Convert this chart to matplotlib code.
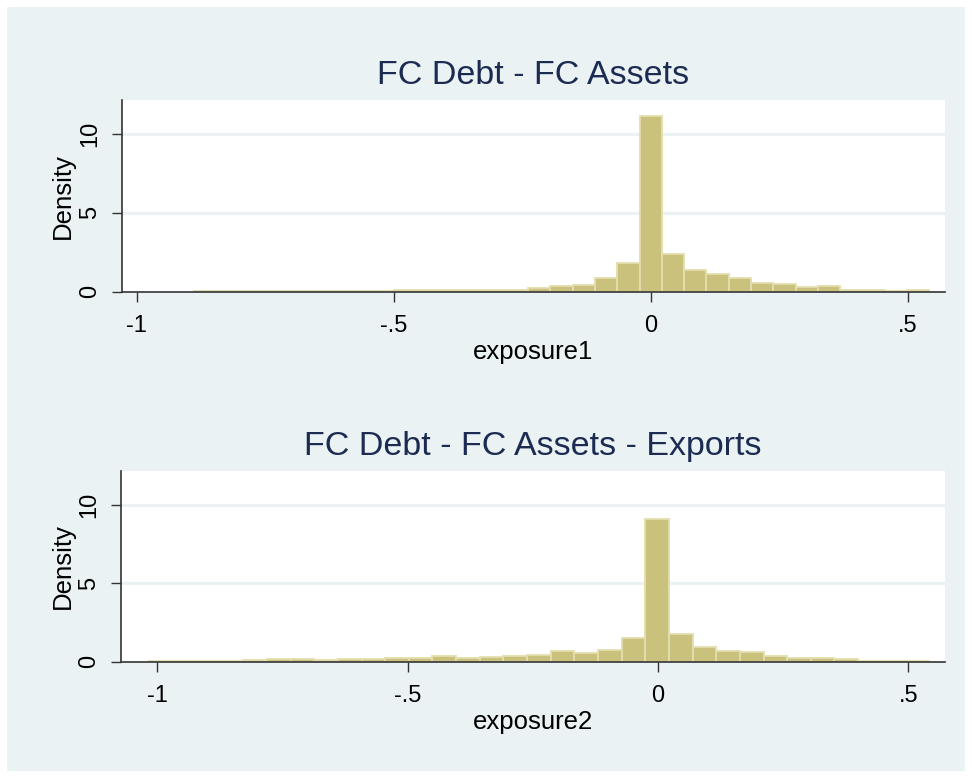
import numpy as np
import matplotlib
matplotlib.use('Agg')
import matplotlib.pyplot as plt
from matplotlib.patches import Rectangle

plt.rcParams['font.family'] = ['Liberation Sans', 'DejaVu Sans']

# histogram 1: exposure1 (33 bins)
bin_start1 = -0.8887
bin_end1 = 0.542
dens1 = [0.05, 0.05, 0.05, 0.05, 0.05, 0.05, 0.06, 0.06, 0.07, 0.08, 0.08,
         0.13, 0.13, 0.08, 0.13, 0.23, 0.34, 0.44, 0.89, 1.84, 11.12,
         2.37, 1.37, 1.12, 0.87, 0.57, 0.47, 0.30, 0.34, 0.13, 0.11, 0.06, 0.11]

# histogram 2: exposure2 (33 bins)
bin_start2 = -1.017
bin_end2 = 0.541
dens2 = [0.06, 0.06, 0.04, 0.04, 0.09, 0.15, 0.19, 0.13, 0.17, 0.17, 0.24,
         0.26, 0.34, 0.23, 0.30, 0.38, 0.45, 0.68, 0.58, 0.77, 1.48, 9.09,
         1.74, 0.91, 0.68, 0.60, 0.34, 0.26, 0.21, 0.17, 0.06, 0.03, 0.03]

titles = ['FC Debt - FC Assets', 'FC Debt - FC Assets - Exports']
xlabels = ['exposure1', 'exposure2']
xticks = [-1, -0.5, 0, 0.5]
xticklabels = ['-1', '-.5', '0', '.5']
yticks = [0, 5, 10]

W, H = 972, 778
fig = plt.figure(figsize=(W/100, H/100), dpi=100)
fig.patch.set_facecolor('white')
bg = '#eaf2f3'
fig.patches.append(Rectangle((7/W, 7/H), 1-14/W, 1-14/H, transform=fig.transFigure,
                             facecolor=bg, edgecolor='none', zorder=-5))

navy = '#1c2b52'
bar_fc = '#c9c17c'
bar_ec = '#e3dead'

panels = [
    dict(rect=[121.7/W, 1-291.7/H, (945-121.7)/W, 191.7/H], xlim=(-1.0291, 0.5727),
         start=bin_start1, end=bin_end1, dens=dens1, title_y=76, xlab_y=352),
    dict(rect=[120.7/W, 1-661.7/H, (945-120.7)/W, 190.7/H], xlim=(-1.073, 0.5729),
         start=bin_start2, end=bin_end2, dens=dens2, title_y=447, xlab_y=722),
]

for i, p in enumerate(panels):
    ax = fig.add_axes(p['rect'])
    ax.set_zorder(2)
    ax.set_facecolor('white')
    edges = np.linspace(p['start'], p['end'], len(p['dens']) + 1)
    ax.bar(edges[:-1], p['dens'], width=np.diff(edges), align='edge',
           color=bar_fc, edgecolor=bar_ec, linewidth=1.3, zorder=3)
    for yv in yticks[1:]:
        ax.axhline(yv, color=bg, linewidth=2.2, zorder=1)
    ax.set_xlim(*p['xlim'])
    ax.set_ylim(0, 12.16)
    ax.set_xticks(xticks)
    ax.set_xticklabels(xticklabels)
    ax.set_yticks(yticks)
    ax.set_yticklabels([str(v) for v in yticks], rotation=90, va='center')
    ax.tick_params(axis='both', direction='out', length=7.5, width=1.0,
                   color='#333333', labelsize=17, labelcolor='black')
    ax.tick_params(axis='x', pad=9)
    ax.tick_params(axis='y', pad=7)
    for s in ['top', 'right']:
        ax.spines[s].set_visible(False)
    for s in ['left', 'bottom']:
        ax.spines[s].set_color('#333333')
        ax.spines[s].set_linewidth(1.2)
        ax.spines[s].set_zorder(5)
    ax.set_ylabel('Density', fontsize=18.5)
    ax.yaxis.set_label_coords((75 - p['rect'][0]*W) / (p['rect'][2]*W), 0.5)
    cx = p['rect'][0] + p['rect'][2] / 2
    fig.text(cx, 1 - p['xlab_y']/H, xlabels[i], fontsize=18.5, ha='center', va='center')
    fig.text(cx, 1 - p['title_y']/H, titles[i], fontsize=24.5, color=navy,
             ha='center', va='center')

plt.savefig('out.png', dpi=100, facecolor=fig.get_facecolor())
plt.close()
